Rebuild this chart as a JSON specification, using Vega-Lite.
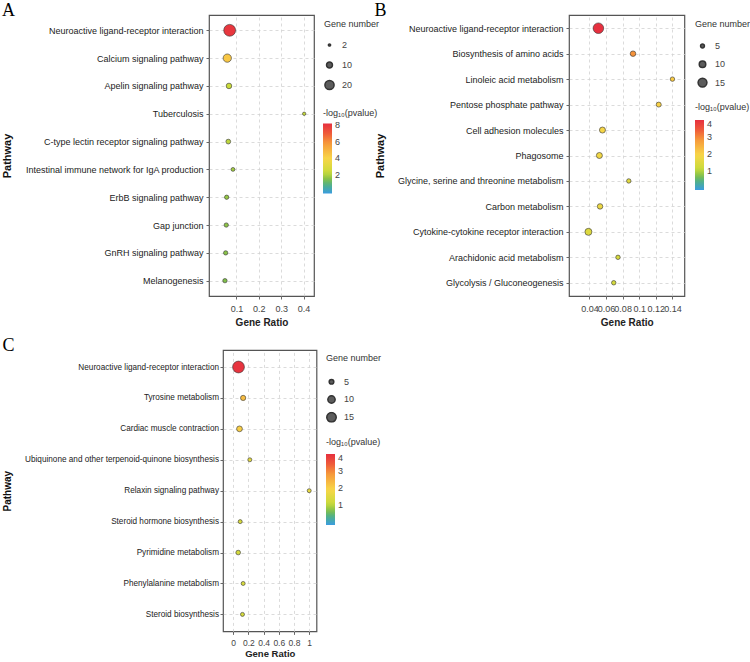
{
  "$schema": "https://vega.github.io/schema/vega-lite/v6.json",
  "padding": {"left": 1, "top": 1, "right": 0, "bottom": 0},
  "background": "white",
  "config": {
    "font": "Liberation Sans",
    "view": {"stroke": "#555555", "strokeWidth": 1.2},
    "axis": {"labelFont": "Liberation Sans", "titleFont": "Liberation Sans", "gridColor": "#d2d2d2", "gridDash": [3, 3], "gridWidth": 0.8, "tickColor": "#444444", "tickSize": 3, "tickWidth": 0.8, "domain": false, "labelOverlap": false, "labelFlush": false, "labelBound": false, "labelLimit": 400},
    "axisX": {"labelFontSize": 9, "labelColor": "#444444", "labelPadding": 5.5, "titleFontSize": 10, "titleFontWeight": "bold", "titleColor": "#222222", "titlePadding": 4},
    "axisY": {"labelFontSize": 9, "labelColor": "#222222", "labelPadding": 3, "titleFontSize": 11, "titleFontWeight": "bold", "titleColor": "#111111", "titlePadding": 12},
    "legend": {"titleFont": "Liberation Sans", "labelFont": "Liberation Sans", "titleFontSize": 9, "titleFontWeight": "normal", "titleColor": "#333333", "labelFontSize": 9, "labelColor": "#444444"},
    "title": {"font": "Liberation Serif", "fontSize": 18, "fontWeight": "normal", "color": "#000000", "anchor": "start", "frame": "bounds", "offset": -5}
  },
  "spacing": 7,
  "resolve": {"scale": {"color": "independent", "size": "independent"}, "legend": {"color": "independent", "size": "independent"}},
  "vconcat": [
    {
      "bounds": "flush",
      "spacing": 255,
      "resolve": {"scale": {"color": "independent", "size": "independent"}, "legend": {"color": "independent", "size": "independent"}},
      "hconcat": [
        {
          "title": {"text": "A"},
          "width": 105,
          "height": 281,
          "data": {"values": [
            {"pathway": "Neuroactive ligand-receptor interaction", "ratio": 0.0695, "genes": 30, "logp": 8.0},
            {"pathway": "Calcium signaling pathway", "ratio": 0.0588, "genes": 17, "logp": 4.4},
            {"pathway": "Apelin signaling pathway", "ratio": 0.0664, "genes": 9, "logp": 2.3},
            {"pathway": "Tuberculosis", "ratio": 0.403, "genes": 4, "logp": 2.2},
            {"pathway": "C-type lectin receptor signaling pathway", "ratio": 0.0633, "genes": 7, "logp": 2.1},
            {"pathway": "Intestinal immune network for IgA production", "ratio": 0.0843, "genes": 5, "logp": 1.8},
            {"pathway": "ErbB signaling pathway", "ratio": 0.0561, "genes": 6, "logp": 1.65},
            {"pathway": "Gap junction", "ratio": 0.0543, "genes": 6, "logp": 1.55},
            {"pathway": "GnRH signaling pathway", "ratio": 0.0516, "genes": 6, "logp": 1.5},
            {"pathway": "Melanogenesis", "ratio": 0.0484, "genes": 6, "logp": 1.4}
          ]},
          "mark": {"type": "circle", "opacity": 1, "stroke": "#333333", "strokeWidth": 0.6},
          "encoding": {
            "y": {"field": "pathway", "type": "nominal", "sort": null, "scale": {"padding": 0.55}, "axis": {"title": "Pathway", "grid": true}},
            "x": {"field": "ratio", "type": "quantitative", "scale": {"domain": [-0.023, 0.447], "nice": false, "zero": false}, "axis": {"title": "Gene Ratio", "values": [0.1, 0.2, 0.3, 0.4], "format": "~g", "grid": true}},
            "size": {"field": "genes", "type": "quantitative", "scale": {"type": "pow", "exponent": 1.25, "domain": [0, 30], "range": [0, 140]}, "legend": {"title": "Gene number", "values": [2, 10, 20], "orient": "none", "legendX": 115, "legendY": 4.8, "symbolFillColor": "#5c5c5c", "symbolOpacity": 1, "clipHeight": 12, "rowPadding": 8, "titlePadding": 10.2, "labelOffset": 7}},
            "color": {"field": "logp", "type": "quantitative", "scale": {"domain": [-0.3, 0.72, 1.4, 2.25, 3.95, 5.82, 7.01, 8.2], "range": ["#3a9ce0", "#4fb08a", "#80bf4a", "#c9db3a", "#f8d648", "#f6983a", "#ef5a3a", "#e6303f"], "interpolate": "rgb"}, "legend": {"title": "-log₁₀(pvalue)", "values": [2, 4, 6, 8], "orient": "none", "legendX": 114, "legendY": 93.5, "gradientLength": 70, "gradientThickness": 9, "titlePadding": 6, "labelOffset": 3, "gradientStrokeWidth": 0}}
          }
        },
        {
          "title": {"text": "B"},
          "width": 115.4,
          "height": 281,
          "data": {"values": [
            {"pathway": "Neuroactive ligand-receptor interaction", "ratio": 0.0508, "genes": 19, "logp": 4.0},
            {"pathway": "Biosynthesis of amino acids", "ratio": 0.0925, "genes": 8, "logp": 2.9},
            {"pathway": "Linoleic acid metabolism", "ratio": 0.14, "genes": 6, "logp": 2.1},
            {"pathway": "Pentose phosphate pathway", "ratio": 0.1235, "genes": 7, "logp": 2.0},
            {"pathway": "Cell adhesion molecules", "ratio": 0.0557, "genes": 9, "logp": 1.9},
            {"pathway": "Phagosome", "ratio": 0.052, "genes": 9, "logp": 1.8},
            {"pathway": "Glycine, serine and threonine metabolism", "ratio": 0.0874, "genes": 6, "logp": 1.5},
            {"pathway": "Carbon metabolism", "ratio": 0.0528, "genes": 8, "logp": 1.7},
            {"pathway": "Cytokine-cytokine receptor interaction", "ratio": 0.0388, "genes": 11, "logp": 1.45},
            {"pathway": "Arachidonic acid metabolism", "ratio": 0.0744, "genes": 6, "logp": 1.35},
            {"pathway": "Glycolysis / Gluconeogenesis", "ratio": 0.0693, "genes": 6, "logp": 1.3}
          ]},
          "mark": {"type": "circle", "opacity": 1, "stroke": "#333333", "strokeWidth": 0.6},
          "encoding": {
            "y": {"field": "pathway", "type": "nominal", "sort": null, "scale": {"padding": 0.52}, "axis": {"title": "Pathway", "grid": true}},
            "x": {"field": "ratio", "type": "quantitative", "scale": {"domain": [0.0154, 0.1544], "nice": false, "zero": false}, "axis": {"title": "Gene Ratio", "values": [0.04, 0.06, 0.08, 0.1, 0.12, 0.14], "format": "~g", "grid": true}},
            "size": {"field": "genes", "type": "quantitative", "scale": {"type": "pow", "exponent": 1.5, "domain": [0, 20], "range": [0, 120.7]}, "legend": {"title": "Gene number", "values": [5, 10, 15], "orient": "none", "legendX": 126, "legendY": 4.8, "symbolFillColor": "#5c5c5c", "symbolOpacity": 1, "clipHeight": 11, "rowPadding": 7.3, "titlePadding": 11.7, "labelOffset": 7, "symbolOffset": 2}},
            "color": {"field": "logp", "type": "quantitative", "scale": {"domain": [-0.14, 0.357, 0.688, 1.102, 1.93, 2.841, 3.42, 4.0], "range": ["#3a9ce0", "#4fb08a", "#80bf4a", "#c9db3a", "#f8d648", "#f6983a", "#ef5a3a", "#e6303f"], "interpolate": "rgb"}, "legend": {"title": "-log₁₀(pvalue)", "values": [1, 2, 3, 4], "orient": "none", "legendX": 126, "legendY": 88, "gradientLength": 70, "gradientThickness": 9, "titlePadding": 8, "labelOffset": 3, "gradientStrokeWidth": 0}}
          }
        }
      ]
    },
    {
      "bounds": "flush",
      "spacing": 13,
      "resolve": {"scale": {"color": "independent", "size": "independent"}, "legend": {"color": "independent", "size": "independent"}},
      "hconcat": [
        {
          "width": 1,
          "height": 1,
          "view": {"stroke": null},
          "data": {"values": []},
          "mark": {"type": "point", "opacity": 0},
          "encoding": {}
        },
        {
          "title": {"text": "C"},
          "width": 93.5,
          "height": 281.4,
          "data": {"values": [
            {"pathway": "Neuroactive ligand-receptor interaction", "ratio": 0.07, "genes": 21, "logp": 3.95},
            {"pathway": "Tyrosine metabolism", "ratio": 0.131, "genes": 6, "logp": 2.3},
            {"pathway": "Cardiac muscle contraction", "ratio": 0.083, "genes": 7, "logp": 2.05},
            {"pathway": "Ubiquinone and other terpenoid-quinone biosynthesis", "ratio": 0.219, "genes": 4, "logp": 1.55},
            {"pathway": "Relaxin signaling pathway", "ratio": 1.0, "genes": 4, "logp": 1.6},
            {"pathway": "Steroid hormone biosynthesis", "ratio": 0.092, "genes": 4, "logp": 1.35},
            {"pathway": "Pyrimidine metabolism", "ratio": 0.066, "genes": 5, "logp": 1.3},
            {"pathway": "Phenylalanine metabolism", "ratio": 0.131, "genes": 4, "logp": 1.35},
            {"pathway": "Steroid biosynthesis", "ratio": 0.122, "genes": 4, "logp": 1.3}
          ]},
          "mark": {"type": "circle", "opacity": 1, "stroke": "#333333", "strokeWidth": 0.6},
          "encoding": {
            "y": {"field": "pathway", "type": "nominal", "sort": null, "scale": {"padding": 0.55}, "axis": {"title": "Pathway", "grid": true, "labelFontSize": 8.2, "labelPadding": 1.5, "titleFontSize": 10}},
            "x": {"field": "ratio", "type": "quantitative", "scale": {"domain": [-0.134, 1.096], "nice": false, "zero": false}, "axis": {"title": "Gene Ratio", "values": [0, 0.2, 0.4, 0.6, 0.8, 1], "format": "~g", "grid": true, "labelFontSize": 8.5, "labelPadding": 4.5, "titleFontSize": 9.5, "titlePadding": 1.5}},
            "size": {"field": "genes", "type": "quantitative", "scale": {"type": "pow", "exponent": 1.3, "domain": [0, 21], "range": [0, 139.4]}, "legend": {"title": "Gene number", "values": [5, 10, 15], "orient": "none", "legendX": 103, "legendY": 4.3, "symbolFillColor": "#5c5c5c", "symbolOpacity": 1, "clipHeight": 11, "rowPadding": 6.8, "titlePadding": 12.9, "labelOffset": 7}},
            "color": {"field": "logp", "type": "quantitative", "scale": {"domain": [-0.14, 0.357, 0.688, 1.102, 1.93, 2.841, 3.42, 4.0], "range": ["#3a9ce0", "#4fb08a", "#80bf4a", "#c9db3a", "#f8d648", "#f6983a", "#ef5a3a", "#e6303f"], "interpolate": "rgb"}, "legend": {"title": "-log₁₀(pvalue)", "values": [1, 2, 3, 4], "orient": "none", "legendX": 103, "legendY": 88, "gradientLength": 71, "gradientThickness": 9, "titlePadding": 7, "labelOffset": 3, "gradientStrokeWidth": 0}}
          }
        }
      ]
    }
  ]
}
